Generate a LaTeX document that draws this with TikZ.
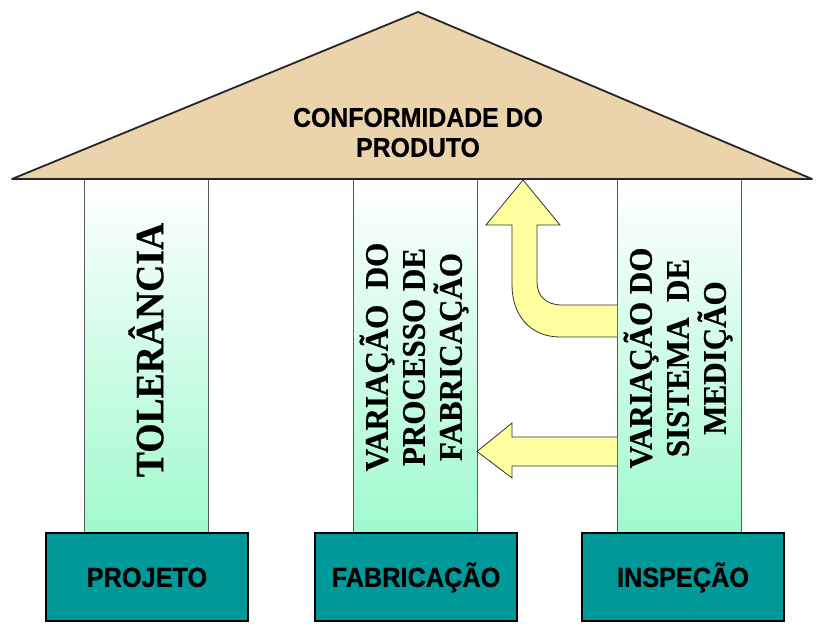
\documentclass[tikz,border=0pt]{standalone}
\usepackage{fontspec}
\setmainfont{Liberation Serif}
\newfontfamily\tnrb{Liberation Serif Bold}[FakeStretch=0.94, FakeBold=0.6]
\newfontfamily\arialb{Liberation Sans Bold}[FakeStretch=0.92, FakeBold=0.6]
\definecolor{rooftan}{RGB}{235,212,172}
\definecolor{mint}{RGB}{160,250,205}
\definecolor{tealbox}{RGB}{0,153,153}
\definecolor{arrowyel}{RGB}{255,255,160}
\tikzset{
  pillar/.style={draw=black!65, line width=0.9pt, minimum width=124pt, minimum height=353pt,
    top color=white, bottom color=mint, inner sep=0pt},
  basebox/.style={draw=black, line width=1.2pt, fill=tealbox, minimum width=202pt, minimum height=88pt,
    text height=19.7pt, text depth=0pt,
    font=\arialb\fontsize{27.5}{30}\selectfont},
  pillartext/.style={rotate=90, align=center, font=\tnrb\fontsize{33}{37}\selectfont},
  bigarrow/.style={fill=arrowyel, draw=black!80, line width=0.8pt, line join=miter}
}
\begin{document}
\begin{tikzpicture}[x=1pt,y=1pt]
\useasboundingbox (0,0) rectangle (816,624);
% pillars
\node[pillar] (p1) at (146,268.5) {};
\node[pillar] (p2) at (415.5,268.5) {};
\node[pillar] (p3) at (679,268.5) {};
% base boxes
\node[basebox] (b1) at (147,47) {PROJETO};
\node[basebox] (b2) at (416,47) {FABRICAÇÃO};
\node[basebox] (b3) at (683,47) {INSPEÇÃO};
% pillar texts
\node[rotate=90, font=\tnrb\fontsize{40}{44}\selectfont] (t1) at (146,274) {TOLERÂNCIA};
\node[pillartext] (t2) at (414,267) {VARIAÇÃO\ \ DO\\PROCESSO DE\\FABRICAÇÃO};
\node[pillartext] (t3) at (678,266) {VARIAÇÃO DO\\SISTEMA\ \ DE\\MEDIÇÃO};
% arrows
\draw[bigarrow] (617,287) -- (560,287) .. controls (530,287) and (512,309) .. (512,339)
  -- (512,399) -- (486,399) -- (523,444) -- (560,399) -- (537,399) -- (537,342)
  .. controls (537,328) and (546,319) .. (562,319) -- (617,319);
\draw[bigarrow] (617,158) -- (512,158) -- (512,146) -- (477,172.5) -- (512,201) -- (512,187) -- (617,187);
% roof
\draw[fill=rooftan, draw=black!85, line width=1.8pt, line join=round] (418,612) -- (812,445) -- (12,445) -- cycle;
\node[align=center, font=\arialb\fontsize{27}{30}\selectfont] (roof) at (418,491.5) {CONFORMIDADE DO\\PRODUTO};
\end{tikzpicture}
\end{document}
